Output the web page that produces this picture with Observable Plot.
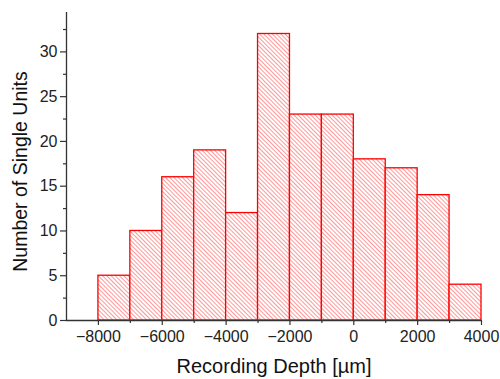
<!DOCTYPE html>
<html>
<head>
<meta charset="utf-8">
<script src="https://cdn.jsdelivr.net/npm/d3@7"></script>
<script src="https://cdn.jsdelivr.net/npm/@observablehq/plot@0.6"></script>
<style>
  body { margin: 0; background: #fff; }
  #chart svg { display: block; }
</style>
</head>
<body>
<div id="chart"></div>
<script>
const binStart = [-8000, -7000, -6000, -5000, -4000, -3000, -2000, -1000, 0, 1000, 2000, 3000];
const binWidth = 1000;
const counts = [5, 10, 16, 19, 12, 32, 23, 23, 18, 17, 14, 4];
const xMajorTicks = [-8000, -6000, -4000, -2000, 0, 2000, 4000];
const xMinorTicks = [-7000, -5000, -3000, -1000, 1000, 3000];
const yMajorTicks = [0, 5, 10, 15, 20, 25, 30];
const yMinorTicks = [2.5, 7.5, 12.5, 17.5, 22.5, 27.5, 32.5];
const xLabel = "Recording Depth [µm]";
const yLabel = "Number of Single Units";

const bins = binStart.map((s, i) => ({x1: s, x2: s + binWidth, count: counts[i]}));

const font = "Liberation Sans, Arial, sans-serif";
const axisColor = "#333";

const chart = Plot.plot({
  width: 500,
  height: 379,
  marginLeft: 66,
  marginRight: 19,
  marginTop: 12,
  marginBottom: 59,
  style: {fontFamily: font, background: "#fff", color: "#222"},
  x: {domain: [-9000, 4000]},
  y: {domain: [0, 34.4]},
  marks: [
    Plot.rect(bins, {x1: "x1", x2: "x2", y1: 0, y2: "count", fill: "url(#hatch)", stroke: "#ff0000", strokeWidth: 1.3}),
    Plot.axisX({ticks: xMajorTicks, tickSize: 5, tickPadding: 5, fontSize: 16, tickFormat: d3.format("d"), label: null, stroke: axisColor, strokeWidth: 1.2}),
    Plot.axisX({ticks: xMinorTicks, tickSize: 3, tickFormat: () => "", label: null, stroke: axisColor, strokeWidth: 1.2}),
    Plot.axisY({ticks: yMajorTicks, tickSize: 6, tickPadding: 3, fontSize: 16, label: null, stroke: axisColor, strokeWidth: 1.2}),
    Plot.axisY({ticks: yMinorTicks, tickSize: 3, tickFormat: () => "", label: null, stroke: axisColor, strokeWidth: 1.2}),
    Plot.ruleY([0], {stroke: axisColor, strokeWidth: 1.3}),
    Plot.ruleX([-9000], {stroke: axisColor, strokeWidth: 1.3}),
    Plot.text([xLabel], {frameAnchor: "bottom", text: d => d, dy: 52, fontSize: 20, fill: "#111"}),
    Plot.text([yLabel], {frameAnchor: "left", textAnchor: "middle", text: d => d, dx: -46, dy: 5, rotate: -90, fontSize: 19.5, fill: "#111"})
  ]
});

const svg = d3.select(chart);
const defs = svg.insert("defs", ":first-child");
const pat = defs.append("pattern")
  .attr("id", "hatch")
  .attr("patternUnits", "userSpaceOnUse")
  .attr("width", 3)
  .attr("height", 3)
  .attr("patternTransform", "rotate(-45)");
pat.append("rect").attr("width", 3).attr("height", 3).attr("fill", "#fff");
pat.append("line").attr("x1", 0.5).attr("y1", 0).attr("x2", 0.5).attr("y2", 3)
  .attr("stroke", "#ff8c8c").attr("stroke-width", 0.9);

document.getElementById("chart").appendChild(chart);
</script>
</body>
</html>
